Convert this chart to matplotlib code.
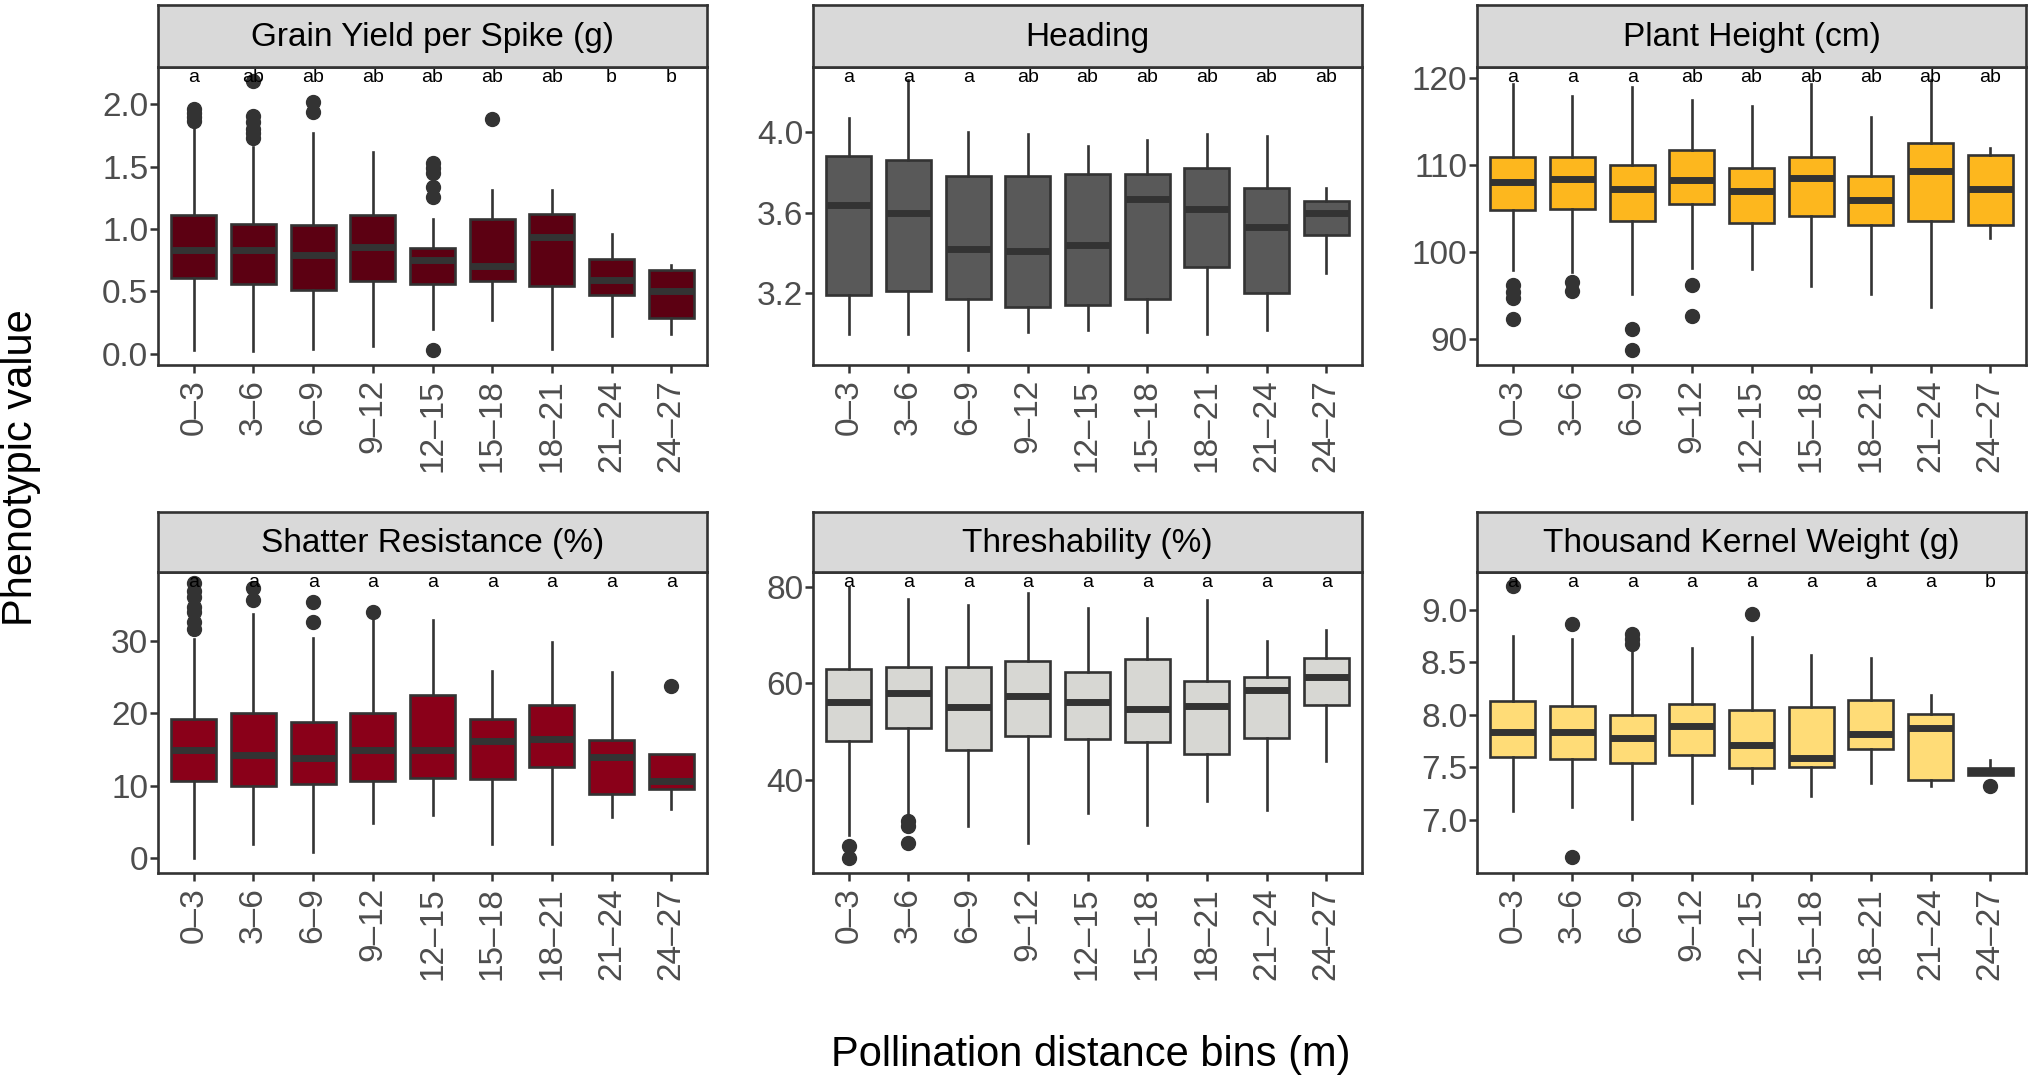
import matplotlib
matplotlib.use("Agg")
import matplotlib.pyplot as plt

plt.rcParams['font.family'] = ['Liberation Sans', 'DejaVu Sans']

# distance bins shared by every panel
bins = ['0–3', '3–6', '6–9', '9–12', '12–15', '15–18', '18–21', '21–24', '24–27']

# five number summaries per bin: (lower whisker, Q1, median, Q3, upper whisker)
gy_stats = [(0.03, 0.61, 0.83, 1.11, 1.82), (0.02, 0.56, 0.83, 1.04, 1.66),
            (0.04, 0.51, 0.79, 1.03, 1.77), (0.06, 0.58, 0.86, 1.11, 1.62),
            (0.20, 0.56, 0.75, 0.85, 1.08), (0.27, 0.58, 0.70, 1.08, 1.31),
            (0.04, 0.54, 0.94, 1.12, 1.31), (0.14, 0.47, 0.59, 0.76, 0.96),
            (0.16, 0.29, 0.50, 0.67, 0.71)]
gy_out = [[1.87, 1.90, 1.93, 1.96], [1.73, 1.77, 1.80, 1.86, 1.91, 2.19],
          [1.94, 2.02], [], [0.03, 1.26, 1.34, 1.45, 1.49, 1.53], [1.88], [], [], []]
gy_letters = ['a', 'ab', 'ab', 'ab', 'ab', 'ab', 'ab', 'b', 'b']

hd_stats = [(3.00, 3.19, 3.64, 3.88, 4.07), (3.00, 3.21, 3.60, 3.86, 4.26),
            (2.92, 3.17, 3.42, 3.78, 4.00), (3.01, 3.13, 3.41, 3.78, 3.99),
            (3.02, 3.14, 3.44, 3.79, 3.93), (3.01, 3.17, 3.67, 3.79, 3.96),
            (3.00, 3.33, 3.62, 3.82, 3.99), (3.02, 3.20, 3.53, 3.72, 3.98),
            (3.30, 3.49, 3.60, 3.66, 3.72)]
hd_out = [[], [], [], [], [], [], [], [], []]
hd_letters = ['a', 'a', 'a', 'ab', 'ab', 'ab', 'ab', 'ab', 'ab']

ph_stats = [(98.0, 104.8, 108.1, 110.9, 119.3), (97.7, 104.9, 108.4, 110.9, 117.9),
            (95.2, 103.6, 107.3, 110.0, 119.0), (98.2, 105.5, 108.3, 111.7, 117.4),
            (98.1, 103.3, 107.0, 109.6, 116.8), (96.1, 104.1, 108.5, 110.9, 119.3),
            (95.2, 103.1, 106.0, 108.7, 115.5), (93.7, 103.6, 109.3, 112.5, 119.7),
            (101.6, 103.1, 107.2, 111.1, 111.9)]
ph_out = [[92.3, 94.7, 95.4, 96.2], [95.6, 96.6], [88.8, 91.2], [92.7, 96.2],
          [], [], [], [], []]
ph_letters = ['a', 'a', 'a', 'ab', 'ab', 'ab', 'ab', 'ab', 'ab']

sr_stats = [(0.0, 10.7, 15.0, 19.2, 30.3), (1.9, 9.9, 14.2, 20.1, 33.7),
            (0.8, 10.2, 13.9, 18.8, 30.5), (4.8, 10.7, 15.0, 20.1, 32.9),
            (5.9, 11.0, 15.0, 22.6, 32.9), (2.0, 10.9, 16.2, 19.2, 25.9),
            (1.9, 12.6, 16.4, 21.2, 29.9), (5.7, 8.8, 14.0, 16.3, 25.7),
            (6.8, 9.5, 10.7, 14.4, 14.4)]
sr_out = [[31.7, 32.6, 34.0, 34.7, 36.1, 37.0, 38.0], [35.7, 37.3], [32.7, 35.4],
          [34.1], [], [], [], [], [23.8]]
sr_letters = ['a'] * 9

th_stats = [(28.4, 48.0, 56.2, 62.9, 80.0), (33.1, 50.8, 57.9, 63.5, 77.6),
            (30.4, 46.2, 55.0, 63.5, 76.4), (26.8, 49.1, 57.4, 64.7, 78.9),
            (33.1, 48.5, 56.2, 62.3, 75.7), (30.6, 47.8, 54.6, 65.1, 73.6),
            (35.5, 45.3, 55.3, 60.6, 77.3), (33.6, 48.6, 58.7, 61.3, 68.8),
            (43.9, 55.5, 61.4, 65.3, 71.2)]
th_out = [[23.7, 26.1], [26.8, 30.3, 31.3], [], [], [], [], [], [], []]
th_letters = ['a'] * 9

tk_stats = [(7.08, 7.60, 7.84, 8.13, 8.75), (7.12, 7.58, 7.84, 8.08, 8.72),
            (7.01, 7.54, 7.78, 8.00, 8.66), (7.16, 7.62, 7.89, 8.10, 8.64),
            (7.35, 7.49, 7.71, 8.05, 8.74), (7.23, 7.50, 7.59, 8.07, 8.57),
            (7.35, 7.67, 7.82, 8.14, 8.54), (7.32, 7.38, 7.87, 8.01, 8.19),
            (7.43, 7.43, 7.46, 7.49, 7.57)]
tk_out = [[9.23], [6.64, 8.87], [8.68, 8.72, 8.77], [], [8.96], [], [], [], [7.32]]
tk_letters = ['a'] * 8 + ['b']

titles = ['Grain Yield per Spike (g)', 'Heading', 'Plant Height (cm)',
          'Shatter Resistance (%)', 'Threshability (%)', 'Thousand Kernel Weight (g)']
fills = ['#5C0012', '#595959', '#FDB71E', '#8A0019', '#D7D7D3', '#FFDC77']
all_stats = [gy_stats, hd_stats, ph_stats, sr_stats, th_stats, tk_stats]
all_out = [gy_out, hd_out, ph_out, sr_out, th_out, tk_out]
all_letters = [gy_letters, hd_letters, ph_letters, sr_letters, th_letters, tk_letters]
yticks = [[0.0, 0.5, 1.0, 1.5, 2.0], [3.2, 3.6, 4.0], [90, 100, 110, 120],
          [0, 10, 20, 30], [40, 60, 80], [7.0, 7.5, 8.0, 8.5, 9.0]]
ytick_fmt = ['{:.1f}', '{:.1f}', '{:.0f}', '{:.0f}', '{:.0f}', '{:.1f}']
ylims = [(-0.09, 2.30), (2.844, 4.323), (87.06, 121.24),
         (-2.08, 39.58), (20.56, 83.17), (6.491, 9.362)]

W, H = 2032, 1084
dark = '#333333'
fig = plt.figure(figsize=(W / 100, H / 100), dpi=100)

col_left = [158, 813, 1477]
pw = 549
rows = [(5, 67, 365), (512, 572, 873)]  # strip top, panel top, panel bottom

for i in range(6):
    r, c = divmod(i, 3)
    stop, ptop, pbot = rows[r]
    left = col_left[c] / W
    ax = fig.add_axes([left, 1 - pbot / H, pw / W, (pbot - ptop) / H])
    sax = fig.add_axes([left, 1 - ptop / H, pw / W, (ptop - stop) / H])

    stats = []
    for (lo, q1, med, q3, hi), fl in zip(all_stats[i], all_out[i]):
        stats.append(dict(whislo=lo, q1=q1, med=med, q3=q3, whishi=hi, fliers=fl))
    ax.bxp(stats, positions=range(1, 10), widths=0.75, patch_artist=True,
           showcaps=False,
           boxprops=dict(facecolor=fills[i], edgecolor=dark, linewidth=1.9),
           medianprops=dict(color=dark, linewidth=5, solid_capstyle='butt'),
           whiskerprops=dict(color=dark, linewidth=1.9),
           flierprops=dict(marker='o', markerfacecolor=dark, markeredgecolor=dark,
                           markersize=10))

    for j, lt in enumerate(all_letters[i]):
        ax.text(j + 1, 0.965, lt, transform=ax.get_xaxis_transform(),
                ha='center', va='center', fontsize=14, color='black')

    ax.set_xlim(0.4, 9.6)
    ax.set_ylim(*ylims[i])
    ax.set_xticks(range(1, 10))
    ax.set_xticklabels(bins, rotation=90, fontsize=24, color='#4D4D4D')
    ax.set_yticks(yticks[i])
    ax.set_yticklabels([ytick_fmt[i].format(v) for v in yticks[i]],
                       fontsize=24, color='#4D4D4D')
    ax.tick_params(axis='both', length=6, width=1.8, color=dark)
    ax.tick_params(axis='x', pad=4)
    ax.tick_params(axis='y', pad=1)
    for sp in ax.spines.values():
        sp.set_color(dark)
        sp.set_linewidth(1.9)

    sax.set_facecolor('#D9D9D9')
    sax.set_xticks([])
    sax.set_yticks([])
    for sp in sax.spines.values():
        sp.set_color(dark)
        sp.set_linewidth(1.9)
    sax.text(0.5, 0.47, titles[i], transform=sax.transAxes, ha='center',
             va='center', fontsize=24, color='black')

fig.text(0.0105, 1 - 468 / H, 'Phenotypic value', rotation=90, ha='center',
         va='center', fontsize=30)
fig.text(1091 / W, 0.027, 'Pollination distance bins (m)', ha='center',
         va='center', fontsize=30)

fig.savefig('out.png', dpi=100)
